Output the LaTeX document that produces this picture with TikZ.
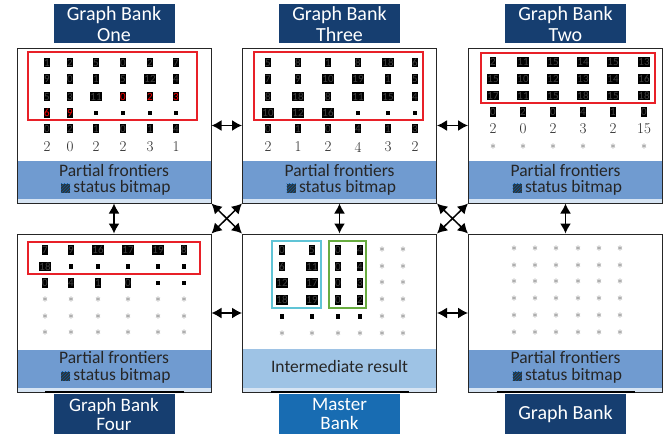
\documentclass[tikz,border=0pt]{standalone}
\usepackage{fontspec}
\newfontfamily\bankfont{Carlito}
\usetikzlibrary{arrows.meta,positioning,patterns,backgrounds}
\definecolor{banknavy}{RGB}{22,62,112}
\definecolor{masterblue}{RGB}{24,108,178}
\definecolor{bandblue}{RGB}{112,155,208}
\definecolor{bandlight}{RGB}{158,195,229}
\definecolor{striplight}{RGB}{214,228,243}
\definecolor{framered}{RGB}{232,32,40}
\definecolor{framecyan}{RGB}{96,196,214}
\definecolor{framegreen}{RGB}{104,172,64}

% one row of a bank: name prefix, column x list, y, entries value/style
\newcommand{\gridrow}[4]{%
  \foreach \v/\k [count=\i from 0] in {#4}{%
    \pgfmathsetmacro\cx{{#2}[\i]}%
    \node[\k] (#1-\i) at (\cx,#3) {\v};}}

\begin{document}
\begin{tikzpicture}[x=1pt,y=-1pt,
    toppanel/.style={draw=black!85,line width=1pt,minimum width=194pt,minimum height=155pt,inner sep=0pt},
    lowpanel/.style={toppanel,minimum height=158pt},
    title/.style={fill=banknavy,text=white,minimum width=121pt,minimum height=39pt,inner sep=0pt,
                  align=center,font=\bankfont\fontsize{20}{21}\selectfont},
    lowtitle/.style={title,minimum height=41pt,font=\bankfont\fontsize{19}{19}\selectfont},
    bandtxt/.style={inner sep=0pt,text=black!85,font=\bankfont\fontsize{17.5}{18}\selectfont},
    bitmap/.style={minimum size=9pt,inner sep=0pt,fill=black!80,
                   postaction={pattern=north east lines,pattern color=teal!70!blue}},
    cell/.style={fill=black,text=black!75,inner xsep=0.7pt,inner ysep=0pt,minimum height=9.5pt,
                 text height=7pt,text depth=0pt,font=\bankfont\fontsize{11}{11}\selectfont},
    redcell/.style={cell,text=red},
    dotcell/.style={fill=black,minimum size=4.5pt,inner sep=0pt},
    star/.style={inner sep=0pt,text=black!60,text height=5.5pt,text depth=-1pt,
                 font=\fontsize{13}{13}\selectfont},
    num/.style={inner sep=0pt,text=black!85,font=\fontsize{15}{15}\selectfont},
    dbl/.style={{Latex[length=10pt,width=11pt]}-{Latex[length=10pt,width=11pt]},line width=1.5pt},
    frame/.style={line width=1.3pt}
  ]
  \useasboundingbox (0,0) rectangle (670,434);

  % the six banks
  \node[toppanel] (one) at (114,125.5) {};
  \node[toppanel] (three) at (339.5,125.5) {};
  \node[toppanel] (two) at (565.5,125.5) {};
  \node[lowpanel] (four) at (114,313) {};
  \node[lowpanel] (master) at (339.5,313) {};
  \node[lowpanel] (last) at (565.5,313) {};

  % bands at the bottom of each bank
  \begin{scope}[on background layer]
    \foreach \p in {one,three,two,four,last}{
      \fill[bandblue] ([yshift=5pt]\p.south west) rectangle ([yshift=43pt]\p.south east);
      \fill[striplight] (\p.south west) rectangle ([yshift=5pt]\p.south east);
    }
    \fill[bandlight] ([yshift=5pt]master.south west) rectangle ([yshift=44pt]master.south east);
    \fill[striplight] (master.south west) rectangle ([yshift=5pt]master.south east);
  \end{scope}

  \foreach \p/\ya/\yb in {one/170/188,three/170/188,two/170/188,four/357/376,last/357/376}{
    \node[bandtxt] (\p-pf) at (\p |- 0,\ya) {Partial frontiers};
    \node[bandtxt] (\p-sb) at ([xshift=8pt]\p |- 0,\yb) {status bitmap};
    \node[bitmap,left=3pt of \p-sb] (\p-bm) {};
  }
  \node[bandtxt] (master-ir) at (master |- 0,366) {Intermediate result};

  % titles
  \node[title,above=4pt of one] (oneT) {Graph Bank\\One};
  \node[title,above=4pt of three] (threeT) {Graph Bank\\Three};
  \node[title,above=4pt of two] (twoT) {Graph Bank\\Two};
  \node[lowtitle,below=1pt of four] (fourT) {Graph Bank\\Four};
  \node[lowtitle,below=1pt of master,fill=masterblue] (masterT) {Master\\Bank};
  \node[lowtitle,below=1pt of last,font=\bankfont\fontsize{20}{21}\selectfont] (lastT) {Graph Bank};
  \foreach \t in {fourT,masterT,lastT}
    \draw[line width=2pt] ([xshift=-8pt,yshift=2pt]\t.north west) -- ([xshift=9pt,yshift=2pt]\t.north east);

  % Graph Bank One
  \gridrow{oneA}{47,70,96,123,150,176}{62.5}{1/cell,2/cell,5/cell,0/cell,2/cell,7/cell}
  \gridrow{oneB}{47,70,96,123,150,176}{79}{9/cell,0/cell,1/cell,5/cell,12/cell,4/cell}
  \gridrow{oneC}{47,70,96,123,150,176}{96.5}{5/cell,3/cell,11/cell,0/redcell,2/redcell,3/redcell}
  \gridrow{oneD}{47,70,96,123,150,176}{113}{6/redcell,9/redcell,{}/dotcell,{}/dotcell,{}/dotcell,{}/dotcell}
  \gridrow{oneE}{47,70,96,123,150,176}{128.5}{0/cell,2/cell,1/cell,0/cell,1/cell,4/cell}
  \gridrow{oneF}{47,70,96,123,150,176}{147}{2/num,0/num,2/num,2/num,3/num,1/num}
  \draw[frame,framered] (28,52) rectangle (197,120);

  % Graph Bank Three
  \gridrow{threeA}{268,298,328,358,388,415}{62.5}{5/cell,8/cell,1/cell,8/cell,18/cell,6/cell}
  \gridrow{threeB}{268,298,328,358,388,415}{79}{7/cell,9/cell,10/cell,19/cell,1/cell,5/cell}
  \gridrow{threeC}{268,298,328,358,388,415}{96.5}{8/cell,18/cell,8/cell,11/cell,15/cell,4/cell}
  \gridrow{threeD}{268,298,328,358,388,415}{113}{10/cell,12/cell,16/cell,{}/dotcell,{}/dotcell,{}/dotcell}
  \gridrow{threeE}{268,298,328,358,388,415}{128.5}{0/cell,1/cell,0/cell,4/cell,1/cell,3/cell}
  \gridrow{threeF}{268,298,328,358,388,415}{147}{2/num,1/num,2/num,4/num,3/num,2/num}
  \draw[frame,framered] (254,52) rectangle (423,120);

  % Graph Bank Two
  \gridrow{twoA}{493,523,553,583,613,644}{62}{2/cell,11/cell,15/cell,14/cell,15/cell,13/cell}
  \gridrow{twoB}{493,523,553,583,613,644}{79}{15/cell,10/cell,12/cell,13/cell,14/cell,16/cell}
  \gridrow{twoC}{493,523,553,583,613,644}{95.5}{17/cell,11/cell,15/cell,18/cell,15/cell,18/cell}
  \gridrow{twoD}{493,523,553,583,613,644}{112}{0/cell,2/cell,0/cell,4/cell,1/cell,0/cell}
  \gridrow{twoE}{493,523,553,583,613,644}{129}{2/num,0/num,2/num,3/num,2/num,15/num}
  \gridrow{twoF}{493,523,553,583,613,644}{147}{$\ast$/star,$\ast$/star,$\ast$/star,$\ast$/star,$\ast$/star,$\ast$/star}
  \draw[frame,framered] (481,53) rectangle (655,103);

  % Graph Bank Four
  \gridrow{fourA}{45,71,98,128,158,184}{250}{7/cell,9/cell,16/cell,17/cell,19/cell,8/cell}
  \gridrow{fourB}{45,71,98,128,158,184}{266.5}{18/cell,{}/dotcell,{}/dotcell,{}/dotcell,{}/dotcell,{}/dotcell}
  \gridrow{fourC}{45,71,98,128,158,184}{283}{0/cell,4/cell,1/cell,0/cell,{}/dotcell,{}/dotcell}
  \foreach \r/\y in {D/300,E/317,F/333}{
    \gridrow{four\r}{45,71,98,128,158,184}{\y}{$\ast$/star,$\ast$/star,$\ast$/star,$\ast$/star,$\ast$/star,$\ast$/star}
  }
  \draw[frame,framered] (28,242) rectangle (200,274);

  % Master Bank
  \gridrow{masterA}{282,312,338,360,382,403}{250}{0/cell,5/cell,0/cell,4/cell,$\ast$/star,$\ast$/star}
  \gridrow{masterB}{282,312,338,360,382,403}{266.5}{6/cell,11/cell,0/cell,4/cell,$\ast$/star,$\ast$/star}
  \gridrow{masterC}{282,312,338,360,382,403}{283}{12/cell,17/cell,0/cell,3/cell,$\ast$/star,$\ast$/star}
  \gridrow{masterD}{282,312,338,360,382,403}{300}{18/cell,19/cell,0/cell,2/cell,$\ast$/star,$\ast$/star}
  \gridrow{masterE}{282,312,338,360,382,403}{316.5}{{}/dotcell,{}/dotcell,{}/dotcell,{}/dotcell,$\ast$/star,$\ast$/star}
  \gridrow{masterF}{282,312,338,360,382,403}{334}{$\ast$/star,$\ast$/star,$\ast$/star,$\ast$/star,$\ast$/star,$\ast$/star}
  \draw[frame,framecyan] (272,241) rectangle (321,308);
  \draw[frame,framegreen] (329,241) rectangle (366,308);

  % last Graph Bank
  \foreach \r/\y in {A/249,B/266,C/282,D/299,E/316,F/333}{
    \gridrow{last\r}{514,535,556,578,599,620}{\y}{$\ast$/star,$\ast$/star,$\ast$/star,$\ast$/star,$\ast$/star,$\ast$/star}
  }

  % links between banks
  \draw[dbl] (one) -- (three);
  \draw[dbl] (three) -- (two);
  \draw[dbl] (four) -- (master);
  \draw[dbl] (master) -- (last);
  \draw[dbl] (one) -- (four);
  \draw[dbl] (three) -- (master);
  \draw[dbl] (two) -- (last);
  \draw[dbl] (one.south east) -- (master.north west);
  \draw[dbl] (three.south west) -- (four.north east);
  \draw[dbl] (three.south east) -- (last.north west);
  \draw[dbl] (two.south west) -- (master.north east);
\end{tikzpicture}
\end{document}
